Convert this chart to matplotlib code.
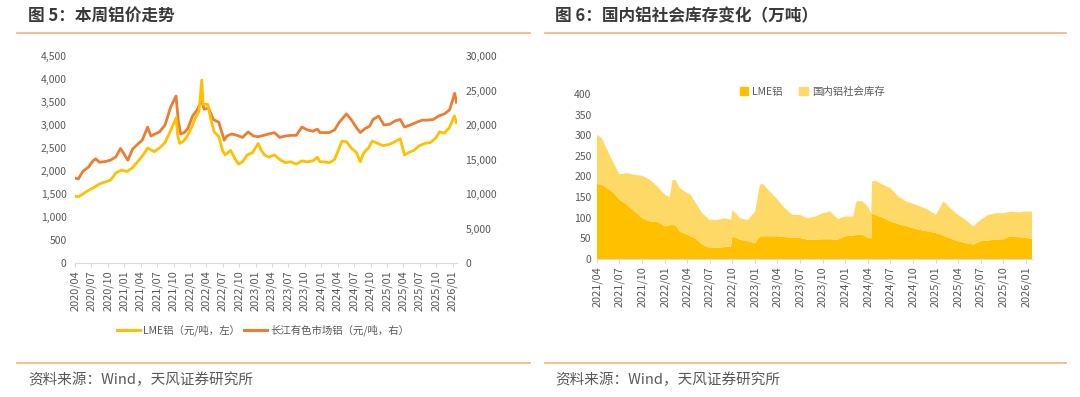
import matplotlib
matplotlib.use("Agg")
import matplotlib.pyplot as plt
from matplotlib.lines import Line2D
from matplotlib.patches import Patch
import pandas as pd

plt.rcParams['font.family'] = ['Noto Sans CJK SC', 'DejaVu Sans']

# ---- 图5 数据 ----
lme_dates = ["2020-04-01", "2020-04-20", "2020-05-15", "2020-06-15", "2020-07-15", "2020-08-15",
             "2020-09-15", "2020-10-15", "2020-11-15", "2020-12-15", "2021-01-15", "2021-02-15",
             "2021-03-15", "2021-04-15", "2021-05-10", "2021-06-15", "2021-07-15", "2021-08-15",
             "2021-09-15", "2021-10-15", "2021-10-25", "2021-11-05", "2021-11-25", "2021-12-15",
             "2022-01-10", "2022-01-30", "2022-02-20", "2022-03-07", "2022-03-15", "2022-04-10",
             "2022-04-25", "2022-05-15", "2022-06-10", "2022-06-30", "2022-07-15", "2022-08-15",
             "2022-09-10", "2022-09-28", "2022-10-20", "2022-11-15", "2022-12-15", "2023-01-15",
             "2023-02-01", "2023-02-20", "2023-03-15", "2023-04-15", "2023-05-15", "2023-06-15",
             "2023-07-15", "2023-08-15", "2023-09-15", "2023-10-15", "2023-11-15", "2023-12-10",
             "2023-12-25", "2024-01-15", "2024-02-15", "2024-03-15", "2024-04-10", "2024-04-25",
             "2024-05-20", "2024-06-15", "2024-07-15", "2024-08-05", "2024-08-25", "2024-09-20",
             "2024-10-10", "2024-11-10", "2024-12-10", "2025-01-15", "2025-02-15", "2025-03-15",
             "2025-04-08", "2025-05-01", "2025-05-30", "2025-06-30", "2025-07-30", "2025-08-30",
             "2025-09-30", "2025-10-20", "2025-11-15", "2025-12-15", "2026-01-10", "2026-01-22"]
lme_price = [1450, 1440, 1500, 1580, 1640, 1720, 1760, 1800, 1960, 2020, 1990, 2070,
             2200, 2350, 2500, 2420, 2500, 2620, 2880, 3150, 2750, 2600, 2650, 2750,
             2950, 3150, 3300, 3980, 3450, 3450, 3150, 2850, 2750, 2450, 2350, 2450,
             2250, 2150, 2200, 2350, 2400, 2600, 2450, 2350, 2300, 2350, 2250, 2180,
             2200, 2150, 2220, 2200, 2220, 2300, 2200, 2200, 2180, 2250, 2500, 2650,
             2640, 2500, 2400, 2200, 2400, 2500, 2650, 2600, 2550, 2580, 2640, 2700,
             2350, 2400, 2450, 2550, 2600, 2620, 2720, 2850, 2820, 2950, 3200, 3050]

cj_dates = ["2020-04-01", "2020-04-20", "2020-05-15", "2020-06-15", "2020-07-10", "2020-07-25",
            "2020-08-15", "2020-09-15", "2020-10-15", "2020-11-15", "2020-12-10", "2020-12-25",
            "2021-01-20", "2021-02-15", "2021-03-15", "2021-04-10", "2021-05-10", "2021-05-28",
            "2021-06-20", "2021-07-15", "2021-08-15", "2021-09-15", "2021-10-15", "2021-10-28",
            "2021-11-10", "2021-11-30", "2021-12-20", "2022-01-15", "2022-02-10", "2022-03-07",
            "2022-03-20", "2022-04-15", "2022-05-10", "2022-06-10", "2022-07-10", "2022-07-25",
            "2022-08-20", "2022-09-20", "2022-10-20", "2022-11-20", "2022-12-20", "2023-01-15",
            "2023-02-15", "2023-03-15", "2023-04-15", "2023-05-15", "2023-06-15", "2023-07-15",
            "2023-08-15", "2023-09-15", "2023-10-15", "2023-11-15", "2023-12-10", "2023-12-25",
            "2024-01-15", "2024-02-15", "2024-03-15", "2024-04-10", "2024-05-20", "2024-06-15",
            "2024-07-15", "2024-08-05", "2024-09-01", "2024-09-25", "2024-10-15", "2024-11-15",
            "2024-12-15", "2025-01-15", "2025-02-15", "2025-03-15", "2025-04-08", "2025-05-10",
            "2025-06-15", "2025-07-15", "2025-08-15", "2025-09-15", "2025-10-15", "2025-11-15",
            "2025-12-15", "2026-01-12", "2026-01-22"]
cj_price = [12300, 12200, 13300, 13900, 14800, 15100, 14600, 14700, 14900, 15400, 16600, 16000,
            14900, 16500, 17200, 17800, 19700, 18400, 18700, 19000, 20000, 22600, 24200, 20500,
            18700, 18900, 19500, 21300, 22200, 23600, 22300, 22400, 20800, 20400, 17800, 18400,
            18700, 18500, 18200, 19000, 18400, 18300, 18500, 18700, 18900, 18200, 18400, 18500,
            18500, 19700, 19300, 19100, 19400, 18900, 18900, 18900, 19300, 20400, 21600, 20800,
            19600, 18900, 19500, 19800, 20800, 21300, 20000, 20100, 20600, 20800, 19700, 20000,
            20400, 20700, 20700, 20800, 21300, 21600, 22200, 24600, 23300]

# ---- 图6 数据（万吨）----
stock_dates = ["2021-04-01", "2021-04-20", "2021-05-01", "2021-06-01", "2021-07-01", "2021-08-01",
               "2021-09-01", "2021-10-01", "2021-11-01", "2021-12-01", "2022-01-01", "2022-01-20",
               "2022-02-01", "2022-02-15", "2022-03-01", "2022-04-01", "2022-04-15", "2022-05-01",
               "2022-06-01", "2022-07-01", "2022-08-01", "2022-09-01", "2022-09-25", "2022-10-01",
               "2022-11-01", "2022-12-01", "2023-01-01", "2023-01-20", "2023-02-01", "2023-03-01",
               "2023-04-01", "2023-05-01", "2023-06-01", "2023-07-01", "2023-08-01", "2023-09-01",
               "2023-10-01", "2023-11-01", "2023-12-01", "2024-01-01", "2024-02-01", "2024-02-15",
               "2024-03-10", "2024-04-01", "2024-04-15", "2024-04-18", "2024-05-01", "2024-06-01",
               "2024-07-01", "2024-08-01", "2024-09-01", "2024-10-01", "2024-11-01", "2024-12-01",
               "2025-01-01", "2025-01-20", "2025-02-01", "2025-03-01", "2025-04-01", "2025-05-01",
               "2025-06-01", "2025-07-01", "2025-08-01", "2025-09-01", "2025-10-01", "2025-11-01",
               "2025-12-01", "2026-01-01", "2026-01-25"]
lme_stock = [182, 180, 176, 164, 144, 131, 115, 99, 91, 91, 79, 82,
             83, 80, 67, 59, 55, 51, 35, 27, 27, 29, 30, 55,
             47, 43, 39, 55, 55, 55, 55, 53, 52, 51, 47, 47,
             48, 48, 47, 55, 57, 58, 59, 51, 50, 111, 107, 100,
             91, 85, 80, 75, 70, 67, 63, 60, 56, 50, 43, 39,
             35, 43, 45, 47, 48, 55, 53, 51, 49]
cn_stock = [119, 113, 104, 76, 61, 77, 89, 103, 101, 85, 77, 68,
            109, 110, 105, 101, 101, 89, 76, 68, 68, 70, 65, 64,
            52, 51, 76, 125, 127, 109, 89, 70, 55, 56, 52, 56,
            63, 67, 50, 48, 46, 82, 81, 76, 61, 77, 83, 80,
            81, 67, 60, 59, 57, 52, 44, 67, 84, 73, 64, 56,
            44, 52, 62, 64, 63, 60, 60, 64, 66]

YELLOW = "#FFC000"
ORANGE = "#ED7D31"
LIGHT = "#FFD966"
LINE_C = "#F4B183"
TXT = "#595959"


def quarter_ticks(start, end):
    return pd.date_range(start, end, freq="QS-JAN")


def style_xaxis(ax, ticks):
    ax.set_xticks(ticks)
    ax.set_xticklabels([t.strftime("%Y/%m") for t in ticks], rotation=90, fontsize=7.9, color=TXT)
    for s in ["top", "right", "left"]:
        ax.spines[s].set_visible(False)
    ax.spines["bottom"].set_color("#D9D9D9")
    ax.tick_params(axis="x", length=3, color="#D9D9D9", pad=2)
    ax.tick_params(axis="y", length=0, labelsize=7.5, labelcolor=TXT)


fig = plt.figure(figsize=(10.8, 3.97), dpi=100)

# 标题与分隔线
fig.text(28 / 1080, 1 - 16 / 397, "图 5：本周铝价走势", fontsize=12, fontweight="bold",
         color="#3A3A3A", va="center")
fig.text(555 / 1080, 1 - 16 / 397, "图 6：国内铝社会库存变化（万吨）", fontsize=12, fontweight="bold",
         color="#3A3A3A", va="center")
for x0, x1 in [(17, 530), (545, 1066)]:
    for yy in [33, 363]:
        fig.add_artist(Line2D([x0 / 1080, x1 / 1080], [1 - yy / 397] * 2, color=LINE_C, lw=1.2))
fig.text(28 / 1080, 1 - 380 / 397, "资料来源：Wind，天风证券研究所", fontsize=10.5, color=TXT, va="center")
fig.text(555 / 1080, 1 - 380 / 397, "资料来源：Wind，天风证券研究所", fontsize=10.5, color=TXT, va="center")

# ---- 图5 ----
ax1 = fig.add_axes([75 / 1080, 1 - 263 / 397, (457 - 75) / 1080, (263 - 56) / 397])
ax2 = ax1.twinx()
ax1.plot(pd.to_datetime(lme_dates), lme_price, color=YELLOW, lw=2.0, zorder=3)
ax2.plot(pd.to_datetime(cj_dates), cj_price, color=ORANGE, lw=2.0)
ax1.set_zorder(ax2.get_zorder() + 1)
ax1.patch.set_visible(False)
ax1.set_ylim(0, 4500)
ax2.set_ylim(0, 30000)
ax1.set_yticks(range(0, 4501, 500))
ax2.set_yticks(range(0, 30001, 5000))
ax1.yaxis.set_major_formatter(matplotlib.ticker.StrMethodFormatter("{x:,.0f}"))
ax2.yaxis.set_major_formatter(matplotlib.ticker.StrMethodFormatter("{x:,.0f}"))
ax1.set_xlim(pd.Timestamp("2020-04-01"), pd.Timestamp("2026-01-25"))
style_xaxis(ax1, quarter_ticks("2020-04-01", "2026-01-01"))
for s in ["top", "right", "left", "bottom"]:
    ax2.spines[s].set_visible(False)
ax2.tick_params(axis="y", length=0, labelsize=7.5, labelcolor=TXT, pad=6)
ax1.tick_params(axis="y", pad=6)

handles = [Line2D([], [], color=YELLOW, lw=2.2), Line2D([], [], color=ORANGE, lw=2.2)]
fig.legend(handles, ["LME铝（元/吨，左）", "长江有色市场铝（元/吨，右）"],
           loc="center", bbox_to_anchor=(263 / 1080, 1 - 330 / 397), ncol=2, frameon=False,
           fontsize=7.5, handlelength=2.2, handletextpad=0.3, columnspacing=0.4,
           labelcolor=TXT)

# ---- 图6 ----
ax3 = fig.add_axes([597 / 1080, 1 - 259 / 397, (1032 - 597) / 1080, (259 - 94) / 397])
sd = pd.to_datetime(stock_dates)
ax3.stackplot(sd, lme_stock, cn_stock, colors=[YELLOW, LIGHT], linewidth=0)
ax3.set_ylim(0, 400)
ax3.set_yticks(range(0, 401, 50))
ax3.set_xlim(pd.Timestamp("2021-04-01"), pd.Timestamp("2026-01-25"))
style_xaxis(ax3, quarter_ticks("2021-04-01", "2026-01-01"))
ax3.tick_params(axis="y", pad=4)

handles = [Patch(color=YELLOW), Patch(color=LIGHT)]
fig.legend(handles, ["LME铝", "国内铝社会库存"], loc="center",
           bbox_to_anchor=(812 / 1080, 1 - 92 / 397), ncol=2, frameon=False, fontsize=7.5,
           handlelength=0.8, handleheight=0.8, handletextpad=0.4, columnspacing=1.6,
           labelcolor=TXT)

fig.savefig("out.png", dpi=100)
